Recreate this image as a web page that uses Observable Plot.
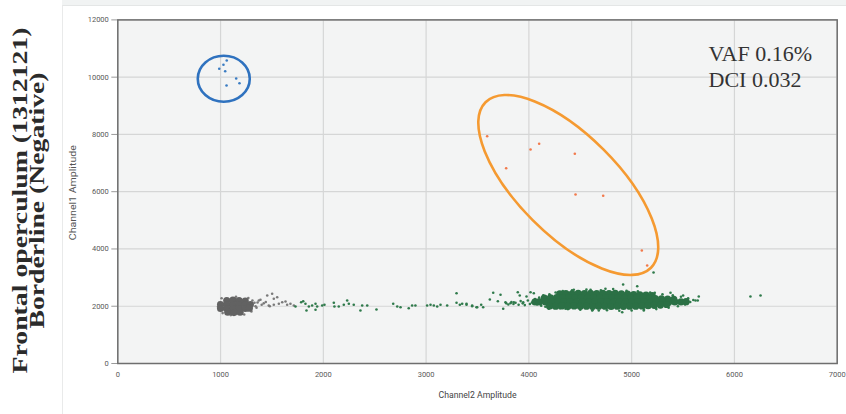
<!DOCTYPE html>
<html>
<head>
<meta charset="utf-8">
<script src="https://cdn.jsdelivr.net/npm/d3@7"></script>
<script src="https://cdn.jsdelivr.net/npm/@observablehq/plot@0.6"></script>
<style>
  html, body { margin: 0; padding: 0; background: #ffffff; }
  #wrap { position: relative; width: 846px; height: 414px; overflow: hidden; }
  #topband { position: absolute; left: 62px; top: 0; right: 0; height: 5px; background: #f1f3f3; }
  #panel { position: absolute; left: 62px; top: 5px; right: 0; bottom: 0; border-left: 1px solid #e9eaea; border-top: 1px solid #e4e6e6; }
  #chart { position: absolute; left: 0; top: 0; }
</style>
</head>
<body>
<div id="wrap"><div id="topband"></div><div id="panel"></div><div id="chart"></div></div>
<script>
// ---- axis ticks ----
const xTicks = [0, 1000, 2000, 3000, 4000, 5000, 6000, 7000];
const yTicks = [0, 2000, 4000, 6000, 8000, 10000, 12000];

// ---- texts ----
const titleLines = ["Frontal operculum (1312121)", "Borderline (Negative)"];
const statsText = "VAF 0.16%\nDCI 0.032";
const xLabel = "Channel2 Amplitude";
const yLabel = "Channel1 Amplitude";

// ---- droplets [Channel2, Channel1] ----
const blueDrops = [[987,10293],[1028,10433],[1060,10583],[1045,10209],[1152,9954],[1184,9790],[1058,9710]];
const orangeDrops = [[3594,7939],[3779,6821],[4016,7475],[4100,7674],[4447,7325],[4454,5903],[4723,5857],[5099,3947],[5151,3423]];

const grayCore = [
  [1060,2200],[1120,2210],[1180,2200],[1240,2180],
  [1000,2060],[1060,2060],[1120,2060],[1180,2060],[1240,2060],[1290,2060],
  [1000,1920],[1060,1920],[1120,1920],[1180,1920],[1240,1920],[1280,1930],
  [1070,1790],[1130,1780],[1190,1790]
];
const grayDrops = [
  [985,2120],[975,1980],[1010,2280],[1150,2330],[1270,2290],[1310,2200],[1330,2120],[1340,2000],
  [1300,1820],[1230,1710],[1100,1690],[1020,1760],[1372,2201],[1388,2225],[1454,2375],[1502,2435],
  [1518,2260],[1551,2316],[1479,2002],[1469,2026],[1518,2050],[1567,2085],[1600,2141],[1632,2166],
  [1648,2050],[1680,2085],[1713,2026],[1420,2100],[1440,2150],[1400,2050],[1360,2130],[1350,1950]
];

const greenCore = [
  [4300,2430],[4360,2440],[4420,2430],[4480,2450],[4540,2440],[4600,2450],[4660,2440],[4720,2450],
  [4780,2440],[4840,2450],[4900,2430],[4960,2420],[5020,2410],[5080,2400],[5140,2390],[5200,2370],
  [4150,2280],[4210,2290],[4270,2300],[4330,2290],[4390,2300],[4450,2290],[4510,2300],[4570,2290],
  [4630,2300],[4690,2290],[4750,2300],[4810,2290],[4870,2300],[4930,2290],[4990,2280],[5050,2290],
  [5110,2280],[5170,2270],[5230,2270],[5290,2260],[5350,2250],[5410,2240],
  [4060,2150],[4100,2150],[4160,2150],[4220,2150],[4280,2140],[4340,2150],[4400,2150],[4460,2140],
  [4520,2150],[4580,2150],[4640,2140],[4700,2150],[4760,2150],[4820,2140],[4880,2150],[4940,2150],
  [5000,2140],[5060,2150],[5120,2150],[5180,2140],[5240,2150],[5300,2150],[5360,2140],[5420,2150],
  [5480,2150],[5530,2160],
  [4200,2010],[4260,2000],[4320,2010],[4380,2000],[4440,2010],[4500,2000],[4560,2000],[4620,1990],
  [4680,2000],[4740,2000],[4800,1990],[4860,2000],[4920,1990],[4980,2000],[5040,2000],[5100,2010],
  [5160,2020],[5220,2030],[5280,2040],[5340,2060]
];
const greenDrops = [
  [1729,1991],[1784,2141],[1804,2176],[1826,2085],[1836,1851],[1859,1991],[1891,2026],[1924,2085],
  [1924,1876],[1940,1991],[1989,2026],[2011,2050],[2102,2120],[2108,1991],[2150,1991],[2199,2050],
  [2232,2201],[2248,2085],[2296,2050],[2361,1851],[2378,2026],[2427,2026],[2517,1886],[2680,2085],
  [2719,1991],[2751,1967],[2831,1932],[2864,2026],[2896,2026],[3010,2026],[3043,2050],[3075,2026],
  [3108,1991],[3140,2050],[3205,2026],[3296,2456],[3296,2120],[3328,2050],[3393,2050],[3448,2026],
  [3497,1967],[3351,2085],[3393,2085],[3448,2002],[3490,1967],[3536,2050],[3555,1967],[3620,2236],
  [3653,2469],[3698,2176],[3724,2400],[3750,1911],[3772,2141],[3821,2106],[3853,2141],[3892,2490],
  [3911,2375],[3945,2141],[3977,2340],[4016,2490],[4048,2456],
  [3780,2100],[3800,2060],[3830,2150],[3850,2080],[3870,2120],[3900,2050],[3920,2180],[3940,2100],
  [3960,2040],[3990,2200],[4010,2080],[4030,2130],[4060,2250],[4080,2060],[4100,2300],[4120,2020],
  [4140,2380],[4160,1980],[4200,2420],[4220,1950],[4260,2480],[4300,1930],[4330,2530],[4380,1900],
  [4420,2560],[4500,1880],[4560,2580],[4620,1870],[4700,2560],[4760,1860],[4820,2600],[4880,1840],
  [4950,2540],[5000,1850],[5060,2520],[5120,1880],[5180,2480],[5240,1900],[5300,2420],[5360,1950],
  [5400,2380],[5450,2000],[5480,2330],[5520,2060],[5550,2280],[5570,2150],[5600,2220],[5430,2100],
  [4437,2574],[4600,2574],[4745,2609],[4917,2760],[5054,2700],[5128,2456],[5225,2469],[5378,2469],
  [5501,2375],[5653,2340],[5621,2201],[5643,2201],[6156,2340],[6254,2375],[4616,1851],[4680,1851],
  [4908,1792],[5118,1851],[4356,1911],[4194,1911],[5213,3178]
];

// ---- annotation ellipse centres [Channel2, Channel1] ----
const ellipseCenters = [
  {name: "blue", x: 1036, y: 9926},
  {name: "orange", x: 4388, y: 6217}
];
const ellipseStyle = {
  blue: {rx: 26, ry: 23, angle: 0, stroke: "#2f72bf"},
  orange: {rx: 117, ry: 50, angle: 45, stroke: "#f59a31"}
};

const ns = "http://www.w3.org/2000/svg";
function ellipseMark(index, scales) {
  const g = document.createElementNS(ns, "g");
  for (const e of ellipseCenters) {
    const s = ellipseStyle[e.name];
    const cx = scales.x(e.x), cy = scales.y(e.y);
    const el = document.createElementNS(ns, "ellipse");
    el.setAttribute("cx", cx);
    el.setAttribute("cy", cy);
    el.setAttribute("rx", s.rx);
    el.setAttribute("ry", s.ry);
    el.setAttribute("transform", `rotate(${s.angle} ${cx} ${cy})`);
    el.setAttribute("fill", "none");
    el.setAttribute("stroke", s.stroke);
    el.setAttribute("stroke-width", 2.6);
    g.appendChild(el);
  }
  return g;
}

const serif = "'Liberation Serif', 'Times New Roman', serif";
const chart = Plot.plot({
  width: 846,
  height: 414,
  marginLeft: 117.3,
  marginRight: 9.3,
  marginTop: 19.4,
  marginBottom: 51,
  style: {background: "transparent", fontFamily: "Roboto, 'Open Sans', sans-serif", overflow: "visible", color: "#555"},
  x: {domain: [0, 7000]},
  y: {domain: [0, 12000]},
  marks: [
    Plot.frame({fill: "#f3f4f4", stroke: null}),
    Plot.gridX(xTicks, {stroke: "#d5d6d6", strokeOpacity: 1, strokeWidth: 1.2}),
    Plot.gridY(yTicks, {stroke: "#d5d6d6", strokeOpacity: 1, strokeWidth: 1.2}),
    Plot.axisX(xTicks, {tickSize: 0, tickPadding: 8, fontSize: 7.5, fill: "#595959", label: null, tickFormat: d => String(d)}),
    Plot.axisY(yTicks, {tickSize: 6, tickPadding: 3, fontSize: 7.5, fill: "#595959", stroke: "#9a9a9a", label: null, tickFormat: d => String(d)}),
    Plot.dot(grayDrops, {x: d => d[0], y: d => d[1], r: 1.3, fill: "#7a7a7a", stroke: null}),
    Plot.dot(grayCore, {x: d => d[0], y: d => d[1], r: 3.6, fill: "#626262", stroke: null}),
    Plot.dot(greenDrops, {x: d => d[0], y: d => d[1], r: 1.3, fill: "#2f7a4b", stroke: null}),
    Plot.dot(greenCore, {x: d => d[0], y: d => d[1], r: 3.6, fill: "#2b7045", stroke: null}),
    Plot.dot(blueDrops, {x: d => d[0], y: d => d[1], r: 1.3, fill: "#3a7cc3", stroke: null}),
    Plot.dot(orangeDrops, {x: d => d[0], y: d => d[1], r: 1.3, fill: "#f27a4c", stroke: null}),
    Plot.frame({stroke: "#6e6e6e", strokeWidth: 1.5}),
    ellipseMark,
    Plot.text([statsText], {frameAnchor: "top-left", dx: 590.7, dy: 22, textAnchor: "start", lineAnchor: "top", lineHeight: 1.2, fontSize: 22, fontFamily: serif, fill: "#333"}),
    Plot.text([xLabel], {frameAnchor: "bottom", textAnchor: "middle", dy: 34, fontSize: 9, fill: "#444"}),
    Plot.text([yLabel], {frameAnchor: "left", textAnchor: "middle", rotate: -90, dx: -45, dy: 1, fontSize: 9, fill: "#555"}),
    Plot.text([titleLines[0]], {frameAnchor: "left", textAnchor: "middle", rotate: -90, dx: -97.5, dy: 8.8, fontSize: 21, fontWeight: "bold", fontFamily: serif, fill: "#2b2b2b"}),
    Plot.text([titleLines[1]], {frameAnchor: "left", textAnchor: "middle", rotate: -90, dx: -81, dy: 8.8, fontSize: 21, fontWeight: "bold", fontFamily: serif, fill: "#2b2b2b"})
  ]
});

// stretch texts to the measured lengths of the reference
const lengths = new Map([[titleLines[0], 346], [titleLines[1], 256], [xLabel, 78], [yLabel, 95]]);
chart.querySelectorAll("text").forEach(t => {
  const L = lengths.get(t.textContent);
  if (L) { t.setAttribute("textLength", L); t.setAttribute("lengthAdjust", "spacingAndGlyphs"); }
});
document.getElementById("chart").appendChild(chart);
</script>
</body>
</html>
